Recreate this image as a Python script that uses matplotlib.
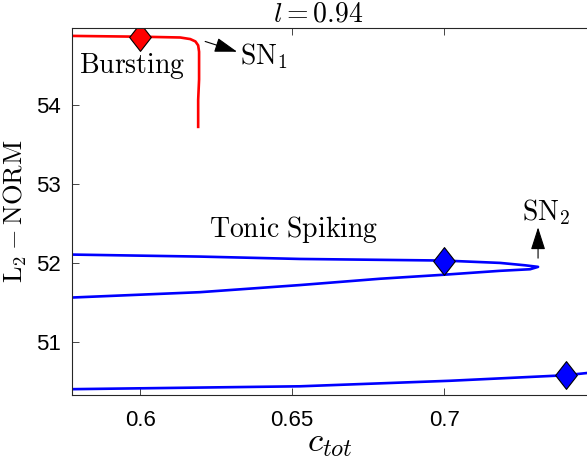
import numpy as np
import matplotlib.pyplot as plt
from matplotlib.path import Path

plt.rcParams['mathtext.fontset'] = 'cm'
plt.rcParams['font.family'] = ['Liberation Sans', 'DejaVu Sans']

# bursting branch (red)
burst_c = [0.570, 0.5776, 0.600, 0.6132, 0.6165, 0.6182, 0.6191, 0.6194, 0.6194, 0.6191, 0.6191]
burst_L = [54.87, 54.87, 54.86, 54.85, 54.83, 54.80, 54.75, 54.67, 54.32, 54.06, 53.72]

# tonic spiking branch (blue), upper arm -> tip -> lower arm
tonic_c = [0.570, 0.6197, 0.6526, 0.6997, 0.7184, 0.7266, 0.7309,
           0.7283, 0.7184, 0.6997, 0.679, 0.6526, 0.6197, 0.570]
tonic_L = [52.11, 52.08, 52.05, 52.03, 52.00, 51.97, 51.95,
           51.92, 51.90, 51.85, 51.80, 51.72, 51.63, 51.55]

# lower blue branch
low_c = [0.570, 0.6526, 0.702, 0.7401, 0.750]
low_L = [50.40, 50.44, 50.51, 50.58, 50.62]

# marked points
burst_mark = (0.60, 54.86)
tonic_marks_c = [0.70, 0.74]
tonic_marks_L = [52.03, 50.58]

xticks = [0.6, 0.65, 0.7]
yticks = [51, 52, 53, 54]

# MATLAB-style diamond
diamond = Path([(0, 1), (0.78, 0), (0, -1), (-0.78, 0), (0, 1)],
               [Path.MOVETO, Path.LINETO, Path.LINETO, Path.LINETO, Path.CLOSEPOLY])

fig = plt.figure(figsize=(5.87, 4.62), dpi=100)
ax = fig.add_axes([72/587, 67/462, 1 - 72/587, 367/462])

ax.plot(burst_c, burst_L, color='#ff0000', lw=1.9)
ax.plot(tonic_c, tonic_L, color='#0000ff', lw=1.9)
ax.plot(low_c, low_L, color='#0000ff', lw=1.9)

ax.plot(*burst_mark, marker=diamond, ms=20, mfc='#ff0000', mec='k', mew=0.8, ls='none')
ax.plot(tonic_marks_c, tonic_marks_L, marker=diamond, ms=20, mfc='#0000ff',
        mec='k', mew=0.8, ls='none', clip_on=False)

arrow = dict(arrowstyle='-|>,head_length=1.4,head_width=0.45', color='k', lw=0.8,
             shrinkA=0, shrinkB=0, mutation_scale=10)
ax.annotate('', xy=(0.6319, 54.67), xytext=(0.6214, 54.80), arrowprops=arrow)
ax.annotate('', xy=(0.7309, 52.45), xytext=(0.7309, 52.06), arrowprops=arrow)

ax.text(0.6327, 54.61, r'$\mathrm{SN}_1$', fontsize=20, ha='left', va='center')
ax.text(0.7336, 52.64, r'$\mathrm{SN}_2$', fontsize=20, ha='center', va='center')
ax.text(0.5974, 54.49, r'$\mathrm{Bursting}$', fontsize=20, ha='center', va='center')
ax.text(0.6505, 52.42, r'$\mathrm{Tonic\ Spiking}$', fontsize=20, ha='center', va='center')

ax.set_xlim(0.5776, 0.747)
ax.set_ylim(50.33, 54.97)
ax.set_xticks(xticks)
ax.set_xticklabels(['0.6', '0.65', '0.7'])
ax.set_yticks(yticks)
ax.tick_params(direction='in', top=True, right=False, labelsize=16, length=5,
               width=0.6, colors='#262626', labelcolor='k')
ax.tick_params(axis='x', pad=11)
ax.tick_params(axis='y', pad=8)
for side in ['left', 'top', 'bottom']:
    ax.spines[side].set_color('#262626')
    ax.spines[side].set_linewidth(0.8)
ax.spines['right'].set_visible(False)

ax.set_xlabel(r'$c_{tot}$', fontsize=25, labelpad=-4)
ax.set_ylabel(r'$\mathrm{L}_2-\mathrm{NORM}$', fontsize=19, labelpad=5)
ax.text(0.478, 1.0, r'$l = 0.94$', transform=ax.transAxes, fontsize=20,
        ha='center', va='bottom')

fig.savefig('out.png', dpi=100)
